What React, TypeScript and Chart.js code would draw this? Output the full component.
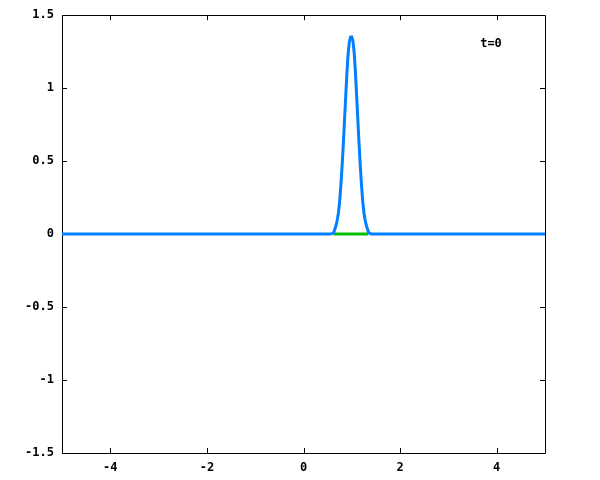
import React, { useEffect, useRef } from "react";
import { Chart, registerables } from "chart.js";

Chart.register(...registerables);

// Blue curve
const blueX = [-5, 0.55, 0.6, 0.625, 0.65, 0.675, 0.7, 0.725, 0.75, 0.775, 0.8, 0.825, 0.85, 0.875, 0.9, 0.925, 0.95, 0.975, 1.0, 1.025, 1.05, 1.075, 1.1, 1.125, 1.15, 1.175, 1.2, 1.225, 1.25, 1.275, 1.3, 1.325, 1.35, 1.375, 1.4, 1.45, 5];
const blueY = [0, 0, 0.005, 0.01, 0.035, 0.06, 0.098, 0.15, 0.23, 0.34, 0.47, 0.62, 0.785, 0.95, 1.11, 1.24, 1.32, 1.35, 1.35, 1.32, 1.24, 1.11, 0.95, 0.785, 0.62, 0.47, 0.34, 0.23, 0.15, 0.098, 0.06, 0.035, 0.01, 0.005, 0, 0, 0];

// Green segment at zero
const greenX = [0.62, 1.34];
const greenY = [0, 0];

const xTicks = [-4, -2, 0, 2, 4];
const yTicks = [-1.5, -1, -0.5, 0, 0.5, 1, 1.5];
const annotation = "t=0";

const FONT = "bold 12px 'DejaVu Sans Mono', monospace";

const framePlugin = {
  id: "frame",
  beforeDatasetsDraw(chart: any) {
    const { ctx, chartArea, scales } = chart;
    const { left, right, top, bottom } = chartArea;
    ctx.save();
    ctx.strokeStyle = "#000";
    ctx.lineWidth = 1;
    ctx.beginPath();
    ctx.rect(Math.round(left) + 0.5, Math.round(top) + 0.5, Math.round(right - left), Math.round(bottom - top));
    ctx.stroke();
    const tl = 5;
    ctx.beginPath();
    for (const v of xTicks) {
      const x = Math.round(scales.x.getPixelForValue(v)) + 0.5;
      ctx.moveTo(x, bottom);
      ctx.lineTo(x, bottom - tl);
      ctx.moveTo(x, top);
      ctx.lineTo(x, top + tl);
    }
    for (const v of yTicks) {
      const y = Math.round(scales.y.getPixelForValue(v)) + 0.5;
      ctx.moveTo(left, y);
      ctx.lineTo(left + tl, y);
      ctx.moveTo(right, y);
      ctx.lineTo(right - tl, y);
    }
    ctx.stroke();
    ctx.restore();
  },
  afterDraw(chart: any) {
    const { ctx } = chart;
    ctx.save();
    ctx.font = FONT;
    ctx.fillStyle = "#000";
    ctx.textAlign = "center";
    ctx.textBaseline = "middle";
    ctx.fillText(annotation, 491, 44);
    ctx.restore();
  },
};

export default function App() {
  const ref = useRef<HTMLCanvasElement | null>(null);
  useEffect(() => {
    if (!ref.current) return;
    const chart = new Chart(ref.current, {
      type: "line",
      data: {
        datasets: [
          {
            data: blueX.map((x, i) => ({ x, y: blueY[i] })),
            borderColor: "#0080ff",
            borderWidth: 3,
            pointRadius: 0,
            tension: 0,
            fill: false,
            order: 0,
          },
          {
            data: greenX.map((x, i) => ({ x, y: greenY[i] })),
            borderColor: "#00c000",
            borderWidth: 3,
            pointRadius: 0,
            fill: false,
            order: 1,
          },
        ],
      },
      options: {
        responsive: false,
        animation: false,
        layout: { padding: { left: 0, right: 55, top: 13, bottom: 0 } },
        plugins: { legend: { display: false }, tooltip: { enabled: false } },
        scales: {
          x: {
            type: "linear",
            min: -5,
            max: 5,
            afterBuildTicks: (s: any) => {
              s.ticks = xTicks.map((v) => ({ value: v }));
            },
            afterFit: (s: any) => {
              s.height = 27;
            },
            grid: { display: false, drawTicks: false },
            border: { display: false },
            ticks: {
              padding: 8,
              color: "#000",
              font: { family: "'DejaVu Sans Mono', monospace", size: 12, weight: "bold" },
              maxRotation: 0,
              callback: (v: any) => String(v),
            },
          },
          y: {
            type: "linear",
            min: -1.5,
            max: 1.5,
            afterBuildTicks: (s: any) => {
              s.ticks = yTicks.map((v) => ({ value: v }));
            },
            afterFit: (s: any) => {
              s.width = 62;
            },
            grid: { display: false, drawTicks: false },
            border: { display: false },
            ticks: {
              padding: 8,
              color: "#000",
              font: { family: "'DejaVu Sans Mono', monospace", size: 12, weight: "bold" },
              callback: (v: any) => String(v),
            },
          },
        },
      },
      plugins: [framePlugin],
    } as any);
    return () => chart.destroy();
  }, []);
  return (
    <div style={{ position: "fixed", left: 0, top: 0, width: 600, height: 480, background: "#fff" }}>
      <canvas ref={ref} width={600} height={480} />
    </div>
  );
}
